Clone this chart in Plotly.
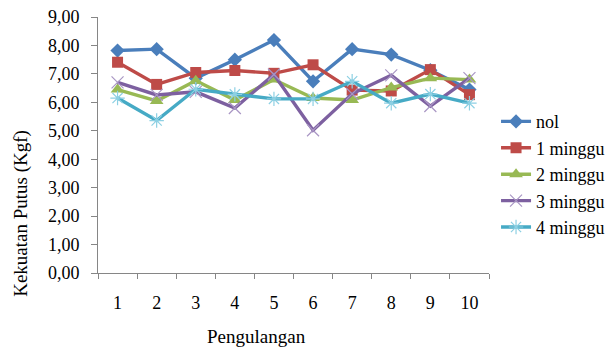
import plotly.graph_objects as go

# Pengulangan (repetition) categories
pengulangan = ["1", "2", "3", "4", "5", "6", "7", "8", "9", "10"]

# Kekuatan putus (Kgf) per storage duration
nol = [7.82, 7.87, 6.85, 7.50, 8.19, 6.74, 7.87, 7.68, 7.13, 6.45]
minggu_1 = [7.41, 6.63, 7.05, 7.12, 7.02, 7.32, 6.43, 6.40, 7.15, 6.27]
minggu_2 = [6.45, 6.05, 6.76, 6.08, 6.80, 6.15, 6.08, 6.52, 6.85, 6.80]
minggu_3 = [6.70, 6.26, 6.37, 5.80, 6.98, 5.02, 6.30, 6.95, 5.87, 6.85]
minggu_4 = [6.15, 5.36, 6.46, 6.28, 6.12, 6.12, 6.74, 5.97, 6.29, 5.97]

y_ticks = [0, 1, 2, 3, 4, 5, 6, 7, 8, 9]

series = [
    ("nol", nol, "#4a7ebb", dict(symbol="diamond", size=11, color="#4a7ebb")),
    ("1 minggu", minggu_1, "#be4b48", dict(symbol="square", size=11, color="#be4b48")),
    ("2 minggu", minggu_2, "#98b954", dict(symbol="triangle-up", size=12, color="#98b954")),
    ("3 minggu", minggu_3, "#7d60a0",
     dict(symbol="x-thin", size=12, color="#a996c4", line=dict(width=1.2, color="#a996c4"))),
    ("4 minggu", minggu_4, "#46aac5",
     dict(symbol="asterisk", size=12, color="#8dd0e3", line=dict(width=1.2, color="#8dd0e3"))),
]

fig = go.Figure()
for name, vals, col, marker in series:
    fig.add_trace(go.Scatter(
        x=pengulangan, y=vals, name=name, mode="lines+markers",
        line=dict(color=col, width=3.4), marker=marker,
    ))

font_family = "'Liberation Serif', 'Times New Roman', 'DejaVu Serif', serif"

fig.update_layout(
    width=614, height=351,
    margin=dict(l=98, r=125, t=17, b=78, autoexpand=False),
    paper_bgcolor="white", plot_bgcolor="white",
    separators=",.",
    font=dict(family=font_family, size=18, color="black"),
    showlegend=True,
    legend=dict(
        x=1.018, y=0.386, xanchor="left", yanchor="middle",
        font=dict(family=font_family, size=18, color="black"),
        bgcolor="rgba(0,0,0,0)", borderwidth=0,
        itemwidth=30, tracegroupgap=0,
    ),
    xaxis=dict(
        type="category", range=[-0.5, 9.5],
        showline=True, linecolor="#868686", linewidth=1,
        ticks="outside", tickson="boundaries", ticklen=5, tickcolor="#868686",
        showgrid=False, zeroline=False,
        ticklabelstandoff=13,
        tickfont=dict(family=font_family, size=18, color="black"),
    ),
    yaxis=dict(
        range=[0, 9], tickvals=y_ticks, tickformat=".2f",
        showline=True, linecolor="#868686", linewidth=1,
        ticks="outside", ticklen=6, tickcolor="#868686",
        showgrid=False, zeroline=False,
        ticklabelstandoff=8,
        tickfont=dict(family=font_family, size=18, color="black"),
    ),
    annotations=[
        dict(text="Pengulangan", xref="paper", yref="paper",
             x=0.4066, y=-0.248, xanchor="center", yanchor="middle",
             showarrow=False, font=dict(family=font_family, size=19, color="black")),
        dict(text="Kekuatan Putus (Kgf)", xref="paper", yref="paper",
             x=-0.197, y=0.235, xanchor="center", yanchor="middle", textangle=-90,
             showarrow=False, font=dict(family=font_family, size=19, color="black")),
    ],
)

fig.write_html("out.html")
